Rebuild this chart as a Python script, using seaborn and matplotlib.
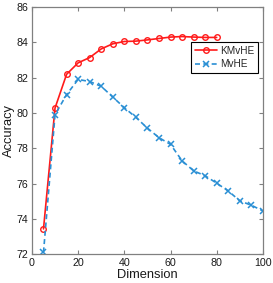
import numpy as np
import pandas as pd
import matplotlib
matplotlib.use("Agg")
import matplotlib.pyplot as plt
import seaborn as sns

# data
dims_k = [5, 10, 15, 20, 25, 30, 35, 40, 45, 50, 55, 60, 65, 70, 75, 80]
acc_k = [73.43, 80.28, 82.19, 82.84, 83.14, 83.63, 83.92, 84.05, 84.07, 84.14,
         84.22, 84.3, 84.33, 84.3, 84.28, 84.28]
dims_m = [5, 10, 15, 20, 25, 30, 35, 40, 45, 50, 55, 60, 65, 70, 75, 80, 85, 90, 95, 100]
acc_m = [72.1, 79.9, 81.04, 81.9, 81.78, 81.51, 80.9, 80.3, 79.75, 79.14,
         78.6, 78.22, 77.29, 76.72, 76.44, 76.02, 75.58, 75.02, 74.77, 74.45]

sns.set_style("white")
plt.rcParams['font.family'] = ['Liberation Sans', 'DejaVu Sans']

fig = plt.figure(figsize=(2.73, 2.83), dpi=100)
ax = fig.add_axes([0.117, 0.102, 0.846, 0.873])

dk = pd.DataFrame({'Dimension': dims_k, 'Accuracy': acc_k})
dm = pd.DataFrame({'Dimension': dims_m, 'Accuracy': acc_m})
red = '#ff1a1a'
blue = '#2a8fd4'
sns.lineplot(ax=ax, data=dk, x='Dimension', y='Accuracy', color=red,
             marker='o', markersize=4, markerfacecolor='none',
             markeredgecolor=red, markeredgewidth=1.0, linewidth=1.2,
             label='KMvHE')
sns.lineplot(ax=ax, data=dm, x='Dimension', y='Accuracy', color=blue,
             marker='x', markersize=4, markeredgecolor=blue,
             markeredgewidth=1.1, linewidth=1.2,
             dashes=False, linestyle=(0, (3, 2)), label='MvHE')

ax.set_xlim(0, 100)
ax.set_ylim(72, 86)
ax.set_xticks([0, 20, 40, 60, 80, 100])
ax.set_yticks([72, 74, 76, 78, 80, 82, 84, 86])
ax.tick_params(direction='in', length=3, width=0.8, labelsize=7.7,
               top=True, right=True, bottom=True, left=True,
               color='#808080', labelcolor='#1a1a1a', pad=2.5)
for s in ax.spines.values():
    s.set_color('#808080')
    s.set_linewidth(0.9)
ax.set_xlabel('Dimension', fontsize=9.3, labelpad=1, color='#1a1a1a')
ax.set_ylabel('Accuracy', fontsize=9.3, labelpad=1, color='#1a1a1a')

leg = ax.legend(loc='upper right', bbox_to_anchor=(0.98, 0.86), fontsize=7.2,
                frameon=True, fancybox=False, handlelength=2.2,
                borderpad=0.4, labelspacing=0.35, handletextpad=0.35,
                borderaxespad=0)
leg.get_frame().set_edgecolor('black')
leg.get_frame().set_linewidth(0.8)
leg.get_frame().set_alpha(1)

fig.savefig('out.png', dpi=100)
